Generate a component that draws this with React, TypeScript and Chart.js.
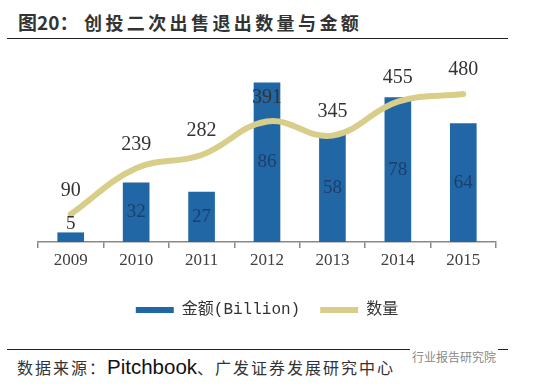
import React, { useEffect, useRef } from "react";
import { Chart, registerables } from "chart.js";
Chart.register(...registerables);

const years = ["2009", "2010", "2011", "2012", "2013", "2014", "2015"];
const amounts = [5, 32, 27, 86, 58, 78, 64];
const counts = [90, 239, 282, 391, 345, 455, 480];
const amountLabel = "金额(Billion)";
const countLabel = "数量";

const BAR_COLOR = "#2267A5";
const LINE_COLOR = "#D8CE8A";

const labelPlugin = {
  id: "valueLabels",
  afterDatasetsDraw(chart: any) {
    const ctx = chart.ctx;
    ctx.save();
    ctx.textAlign = "center";
    ctx.textBaseline = "middle";
    const barMeta = chart.getDatasetMeta(0);
    ctx.font = "19px 'Liberation Serif'";
    barMeta.data.forEach((el: any, i: number) => {
      const { x, y, base } = el.getProps(["x", "y", "base"], true);
      let ty = (y + base) / 2;
      if (base - y < 24) {
        ty = y - 9;
        ctx.fillStyle = "#333";
      } else ctx.fillStyle = "#1B3F6B";
      ctx.fillText(String(amounts[i]), x, ty);
    });
    const lineMeta = chart.getDatasetMeta(1);
    ctx.font = "20px 'Liberation Serif'";
    ctx.fillStyle = "#333";
    lineMeta.data.forEach((el: any, i: number) => {
      ctx.fillText(String(counts[i]), el.x, el.y - 24);
    });
    ctx.restore();
  },
};

export default function App() {
  const ref = useRef<HTMLCanvasElement>(null);
  useEffect(() => {
    if (!ref.current) return;
    const chart = new Chart(ref.current, {
      type: "bar",
      data: {
        labels: years,
        datasets: [
          {
            type: "bar",
            label: amountLabel,
            data: amounts,
            backgroundColor: BAR_COLOR,
            barThickness: 26,
            yAxisID: "y",
            order: 1,
          } as any,
          {
            type: "line",
            label: countLabel,
            data: counts,
            borderColor: LINE_COLOR,
            backgroundColor: LINE_COLOR,
            borderWidth: 6,
            tension: 0.4,
            pointRadius: 0,
            borderCapStyle: "round",
            yAxisID: "y1",
            order: 0,
          } as any,
        ],
      },
      options: {
        animation: false,
        responsive: false,
        maintainAspectRatio: false,
        layout: { padding: { left: 38, right: 54, top: 57, bottom: 0 } },
        scales: {
          x: {
            offset: true,
            grid: {
              display: true,
              drawOnChartArea: false,
              drawTicks: true,
              tickLength: 6,
              color: "#888",
              lineWidth: 1.5,
              offset: true,
            },
            border: { display: true, color: "#888", width: 1.5 },
            ticks: {
              font: { size: 17, family: "'Liberation Serif'" },
              color: "#404040",
              padding: 2,
            },
            afterFit: (s: any) => {
              s.height = 40;
            },
          } as any,
          y: { display: false, min: 0, max: 100 },
          y1: { display: false, min: 0, max: 600, position: "right" },
        },
        plugins: {
          tooltip: { enabled: false },
          legend: {
            position: "bottom",
            labels: {
              boxWidth: 38,
              boxHeight: 6,
              padding: 20,
              color: "#333",
              font: { size: 16, family: "'Liberation Mono', 'Noto Sans CJK SC'" },
              sort: (a: any, b: any) => a.datasetIndex - b.datasetIndex,
              generateLabels: (c: any) =>
                (Chart.defaults.plugins.legend.labels.generateLabels as any)(c).map((l: any) => ({
                  ...l,
                  lineWidth: 0,
                })),
            },
          },
        },
      },
      plugins: [labelPlugin],
    });
    return () => chart.destroy();
  }, []);

  return (
    <div
      style={{
        position: "fixed",
        left: 0,
        top: 0,
        width: 550,
        height: 386,
        background: "#fff",
        overflow: "hidden",
        fontFamily: "'Noto Sans CJK SC', sans-serif",
      }}
    >
      <div
        style={{
          position: "absolute",
          left: 18,
          top: 9,
          fontSize: 19,
          fontWeight: 700,
          color: "#333",
          whiteSpace: "nowrap",
          lineHeight: "26px",
        }}
      >
        图20：
      </div>
      <div
        style={{
          position: "absolute",
          left: 84,
          top: 9,
          fontSize: 18,
          fontWeight: 700,
          color: "#333",
          whiteSpace: "nowrap",
          lineHeight: "26px",
          letterSpacing: 3.4,
        }}
      >
        创投二次出售退出数量与金额
      </div>
      <div
        style={{
          position: "absolute",
          left: 7,
          top: 38,
          width: 501,
          borderTop: "1.5px solid #222",
        }}
      />
      <canvas
        ref={ref}
        width={550}
        height={328}
        style={{ position: "absolute", left: 0, top: 0, width: 550, height: 328 }}
      />
      <div
        style={{
          position: "absolute",
          left: 7,
          top: 349,
          width: 501,
          borderTop: "1.5px solid #222",
        }}
      />
      <div
        style={{
          position: "absolute",
          left: 17,
          top: 354,
          whiteSpace: "nowrap",
          color: "#333",
          lineHeight: "26px",
        }}
      >
        <span style={{ fontSize: 16, letterSpacing: 2 }}>数据来源：</span>
        <span style={{ fontSize: 20.5, fontFamily: "'Liberation Sans'", color: "#111" }}>Pitchbook</span>
        <span style={{ fontSize: 16, letterSpacing: 2 }}>、广发证券发展研究中心</span>
      </div>
      <div
        style={{
          position: "absolute",
          left: 410,
          top: 348,
          fontSize: 12,
          color: "#888",
          whiteSpace: "nowrap",
          background: "#fff",
          padding: "0 2px",
        }}
      >
        行业报告研究院
      </div>
    </div>
  );
}
